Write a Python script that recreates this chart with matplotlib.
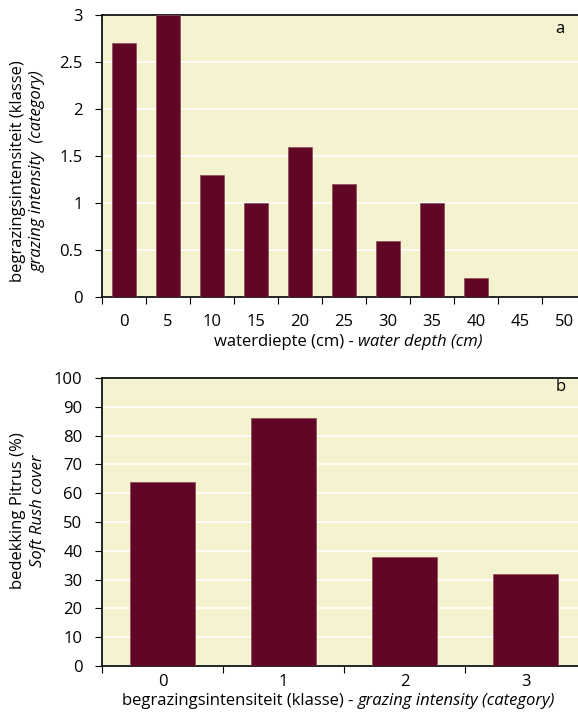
"""Grazing intensity vs water depth, and soft rush cover vs grazing intensity."""

import numpy as np
import matplotlib
matplotlib.use('Agg')
import matplotlib.pyplot as plt

plt.rcParams['font.family'] = ['Open Sans', 'DejaVu Sans']
plt.rcParams['font.size'] = 12

# panel a
depth_labels = ['0', '5', '10', '15', '20', '25', '30', '35', '40', '45', '50']
grazing = [2.7, 3.0, 1.3, 1.0, 1.6, 1.2, 0.6, 1.0, 0.2, 0.0, 0.0]

# panel b
grazing_classes = ['0', '1', '2', '3']
rush_cover = [64, 86, 38, 32]

BAR = '#620626'
BG = '#f5f2cf'
W, H = 578, 713

fig = plt.figure(figsize=(W / 100, H / 100), dpi=100)


def box(left, top, right, bottom):
    return [left / W, 1 - bottom / H, (right - left) / W, (bottom - top) / H]


def style(ax, n, xpad):
    ax.set_facecolor(BG)
    ax.grid(axis='y', color='white', lw=1.2)
    ax.set_axisbelow(True)
    ax.spines['right'].set_visible(False)
    for s in ('top', 'left', 'bottom'):
        ax.spines[s].set_linewidth(1.2)
    ax.set_xlim(-0.5, n - 0.5)
    ax.set_xticks(np.arange(n + 1) - 0.5, minor=False)
    ax.set_xticklabels([])
    ax.tick_params(axis='x', which='major', length=5, width=0.8)
    ax.tick_params(axis='x', which='minor', length=0, pad=xpad)
    ax.tick_params(axis='y', length=5, width=0.8, pad=9)


def two_part(ax, x, y, normal, italic, **kw):
    t1 = ax.text(x, y, normal, transform=ax.transAxes, ha='right', va='top', **kw)
    ax.annotate(italic, xy=(1, 0), xycoords=t1, ha='left', va='bottom',
                style='italic', **kw)
    return t1


# ---- panel a ----
ax1 = fig.add_axes(box(102, 15, 586, 297))
x1 = np.arange(len(grazing))
ax1.bar(x1, grazing, width=0.55, color=BAR, edgecolor='#8a4a5a', lw=0.5, zorder=3)
style(ax1, len(grazing), 12)
ax1.set_xticks(x1, minor=True)
ax1.set_xticklabels(depth_labels, minor=True)
ax1.set_ylim(0, 3)
ax1.set_yticks([0, 0.5, 1, 1.5, 2, 2.5, 3])
ax1.set_yticklabels(['0', '0.5', '1', '1.5', '2', '2.5', '3'])
ax1.text(458 / 484, 0.98, 'a', transform=ax1.transAxes, ha='center', va='top')
two_part(ax1, 0.529, -0.13, 'waterdiepte (cm) - ', 'water depth (cm)')
fig.text(18 / W, 1 - 171 / H, 'begrazingsintensiteit (klasse)', rotation=90,
         ha='center', va='center')
fig.text(38 / W, 1 - 171 / H, 'grazing intensity  (category)', rotation=90,
         ha='center', va='center', style='italic')

# ---- panel b ----
ax2 = fig.add_axes(box(102, 378, 586, 666))
x2 = np.arange(len(rush_cover))
ax2.bar(x2, rush_cover, width=0.54, color=BAR, edgecolor='#8a4a5a', lw=0.5, zorder=3)
style(ax2, len(rush_cover), 6)
ax2.set_xticks(x2, minor=True)
ax2.set_xticklabels(grazing_classes, minor=True)
ax2.set_ylim(0, 100)
ax2.set_yticks(np.arange(0, 101, 10))
ax2.text(459 / 484, 0.995, 'b', transform=ax2.transAxes, ha='center', va='top')
two_part(ax2, 0.529, -0.095, 'begrazingsintensiteit (klasse) - ',
         'grazing intensity (category)')
fig.text(18 / W, 1 - 511 / H, 'bedekking Pitrus (%)', rotation=90,
         ha='center', va='center')
fig.text(38 / W, 1 - 511 / H, 'Soft Rush cover', rotation=90,
         ha='center', va='center', style='italic')

fig.savefig('out.png', dpi=100)
plt.close()
